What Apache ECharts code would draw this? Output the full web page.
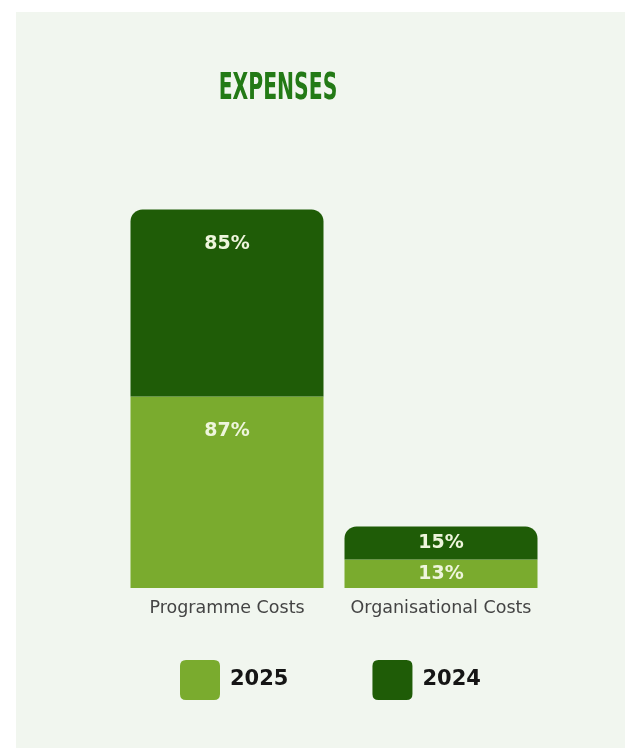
<!DOCTYPE html>
<html><head><meta charset="utf-8">
<script src="https://cdn.jsdelivr.net/npm/echarts@6/dist/echarts.min.js"></script>
<style>html,body{margin:0;padding:0;background:#fff}#c{width:625px;height:754px}</style>
</head><body><div id="c"></div>
<script>
const categories = ['Programme Costs', 'Organisational Costs'];
const values2025 = [87, 13];
const values2024 = [85, 15];
const seriesNames = ['2025', '2024'];

const chart = echarts.init(document.getElementById('c'));
const FONT = '"DejaVu Sans", sans-serif';
function baseLabel() {
  return { show: true, formatter: '{c}%', color: '#eef5dc', fontFamily: FONT, fontWeight: 'bold', fontSize: 19 };
}
function mkData(vals) {
  return vals.map((v, i) => ({
    value: v,
    label: i === 0 ? { position: 'insideTop', distance: 25 } : { position: 'inside' }
  }));
}
chart.setOption({
  backgroundColor: '#ffffff',
  graphic: [
    { type: 'rect', z: -10, shape: { x: 16, y: 12, width: 609, height: 736 }, style: { fill: '#f1f6ef' } },
    { type: 'text', x: 278, y: 89, scaleX: 0.55, z: 10,
      style: { text: 'EXPENSES', fill: '#237a16', font: 'bold 37px "DejaVu Sans", sans-serif', textAlign: 'center', textVerticalAlign: 'middle' } }
  ],
  legend: {
    data: seriesNames, bottom: 49, left: 175, itemWidth: 40, itemHeight: 40, itemGap: 84,
    icon: 'path://M6,0 H34 Q40,0 40,6 V34 Q40,40 34,40 H6 Q0,40 0,34 V6 Q0,0 6,0 Z', selectedMode: false,
    textStyle: { color: '#151515', fontFamily: FONT, fontWeight: 'bold', fontSize: 21, padding: [0, 0, 0, 5] }
  },
  grid: { left: 120, right: 77, top: 192, bottom: 166 },
  xAxis: {
    type: 'category', data: categories,
    axisLine: { show: false }, axisTick: { show: false },
    axisLabel: { interval: 0, color: '#444', fontFamily: FONT, fontSize: 17.5, margin: 11 }
  },
  yAxis: { type: 'value', min: 0, max: 180, show: false, splitLine: { show: false } },
  series: [
    { name: seriesNames[0], type: 'bar', stack: 's', data: mkData(values2025), barWidth: 193,
      itemStyle: { color: '#7aab2e' }, label: baseLabel() },
    { name: seriesNames[1], type: 'bar', stack: 's', data: mkData(values2024), barWidth: 193,
      itemStyle: { color: '#1f5c07', borderRadius: [12, 12, 0, 0] }, label: baseLabel() }
  ]
});
</script></body></html>
